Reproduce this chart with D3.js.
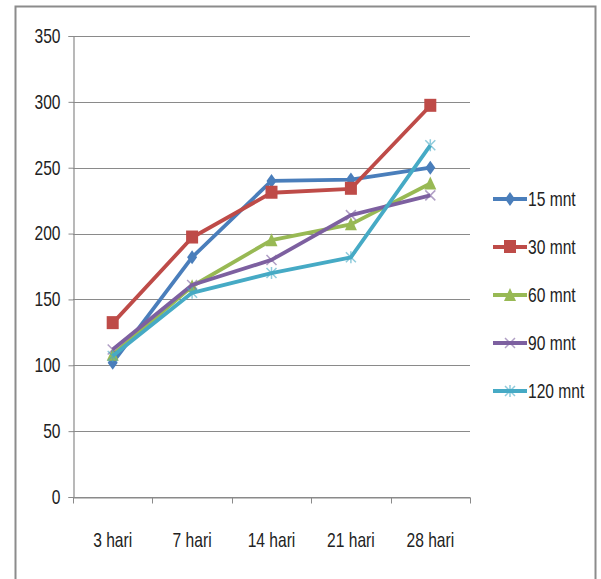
<!DOCTYPE html>
<html>
<head>
<meta charset="utf-8">
<script src="https://cdn.jsdelivr.net/npm/d3@7"></script>
<style>
  html, body { margin: 0; padding: 0; background: #fff; }
  svg text { font-family: "Liberation Sans", Arial, sans-serif; fill: #222; }
</style>
</head>
<body>
<svg id="chart" width="601" height="579"></svg>
<script>
// Categories (curing age) and series (duration)
const categories = ["3 hari", "7 hari", "14 hari", "21 hari", "28 hari"];
const seriesNames = ["15 mnt", "30 mnt", "60 mnt", "90 mnt", "120 mnt"];
const values15 = [102, 182, 240, 241, 250];
const values30 = [132, 197, 231, 234, 297];
const values60 = [108, 160, 195, 207, 238];
const values90 = [112, 161, 180, 214, 229];
const values120 = [107, 155, 170, 182, 267];
const yTicks = [0, 50, 100, 150, 200, 250, 300, 350];

const seriesValues = [values15, values30, values60, values90, values120];
const colors = ["#4a7ebb", "#be4b48", "#98b954", "#7d60a0", "#46aac5"];
const markerTypes = ["diamond", "square", "triangle", "x", "star"];

// horizontal compression for the narrow label face
const squeeze = 0.78;
const fontSize = 20;

const svg = d3.select("#chart");

// outer frame
svg.append("rect")
  .attr("x", 15.5).attr("y", 6.5).attr("width", 580).attr("height", 580)
  .attr("fill", "#fff").attr("stroke", "#8c8c8c").attr("stroke-width", 2);

const plotLeft = 73, plotRight = 470, plotTop = 36, plotBottom = 497;

const x = d3.scaleBand().domain(categories).range([plotLeft, plotRight]);
const y = d3.scaleLinear().domain([0, 350]).range([plotBottom, plotTop]);

// gridlines
svg.append("g")
  .selectAll("line").data(yTicks).join("line")
  .attr("x1", plotLeft).attr("x2", plotRight)
  .attr("y1", d => Math.round(y(d)) + 0.5).attr("y2", d => Math.round(y(d)) + 0.5)
  .attr("stroke", "#8a8a8a").attr("stroke-width", 1.2);

// y axis
const yAxis = svg.append("g")
  .attr("transform", `translate(${plotLeft + 0.5},0)`)
  .call(d3.axisLeft(y).tickValues(yTicks).tickSize(5).tickPadding(8));
yAxis.select(".domain").attr("stroke", "#8a8a8a").attr("stroke-width", 1.2);
yAxis.selectAll(".tick line").attr("stroke", "#8a8a8a");
yAxis.selectAll("text")
  .attr("font-size", fontSize).attr("fill", "#222")
  .attr("x", -13 / squeeze)
  .attr("transform", `scale(${squeeze},1)`);

// x axis with ticks at category boundaries
const xAxis = svg.append("g")
  .attr("transform", `translate(0,${Math.round(plotBottom) + 0.5})`)
  .call(d3.axisBottom(x).tickSize(0).tickPadding(35));
xAxis.select(".domain").attr("stroke", "#8a8a8a").attr("stroke-width", 1.2);
xAxis.selectAll("text")
  .attr("font-size", fontSize).attr("fill", "#222")
  .attr("transform", `scale(${squeeze},1)`);
const bounds = categories.map(c => x(c)).concat([x(categories[categories.length - 1]) + x.bandwidth()]);
xAxis.selectAll("line.bound").data(bounds).join("line")
  .attr("class", "bound")
  .attr("x1", d => Math.round(d) + 0.5).attr("x2", d => Math.round(d) + 0.5)
  .attr("y1", 0).attr("y2", 6)
  .attr("stroke", "#8a8a8a");

const cx = c => x(c) + x.bandwidth() / 2;

function drawMarker(g, type, color, px, py) {
  if (type === "diamond") {
    g.append("path")
      .attr("d", `M${px},${py - 7}L${px + 5},${py}L${px},${py + 7}L${px - 5},${py}Z`)
      .attr("fill", color);
  } else if (type === "square") {
    g.append("rect").attr("x", px - 6).attr("y", py - 7).attr("width", 12).attr("height", 13)
      .attr("fill", color);
  } else if (type === "triangle") {
    g.append("path")
      .attr("d", `M${px},${py - 7}L${px + 6},${py + 6}L${px - 6},${py + 6}Z`)
      .attr("fill", color);
  } else if (type === "x") {
    g.append("path")
      .attr("d", `M${px - 5},${py - 5}L${px + 5},${py + 5}M${px + 5},${py - 5}L${px - 5},${py + 5}`)
      .attr("stroke", color).attr("stroke-width", 1.5).attr("opacity", 0.6);
  } else if (type === "star") {
    g.append("path")
      .attr("d", `M${px - 5},${py - 5}L${px + 5},${py + 5}M${px + 5},${py - 5}L${px - 5},${py + 5}M${px},${py - 6}L${px},${py + 6}`)
      .attr("stroke", color).attr("stroke-width", 1.5).attr("opacity", 0.6);
  }
}

const line = d3.line().x((d, i) => cx(categories[i])).y(d => y(d));

seriesValues.forEach((vals, si) => {
  const g = svg.append("g");
  g.append("path").datum(vals)
    .attr("d", line)
    .attr("fill", "none")
    .attr("stroke", colors[si])
    .attr("stroke-width", 3.8)
    .attr("stroke-linejoin", "round");
  vals.forEach((v, i) => drawMarker(g, markerTypes[si], colors[si], cx(categories[i]), y(v)));
});

// legend
const legend = svg.append("g");
seriesNames.forEach((name, i) => {
  const ly = 199 + i * 48;
  const g = legend.append("g");
  g.append("line").attr("x1", 493).attr("x2", 527).attr("y1", ly).attr("y2", ly)
    .attr("stroke", colors[i]).attr("stroke-width", 3.8);
  drawMarker(g, markerTypes[i], colors[i], 510, ly);
  g.append("text")
    .attr("transform", `translate(528,${ly}) scale(${squeeze},1)`)
    .attr("dy", "0.35em")
    .attr("font-size", fontSize).text(name);
});
</script>
</body>
</html>
